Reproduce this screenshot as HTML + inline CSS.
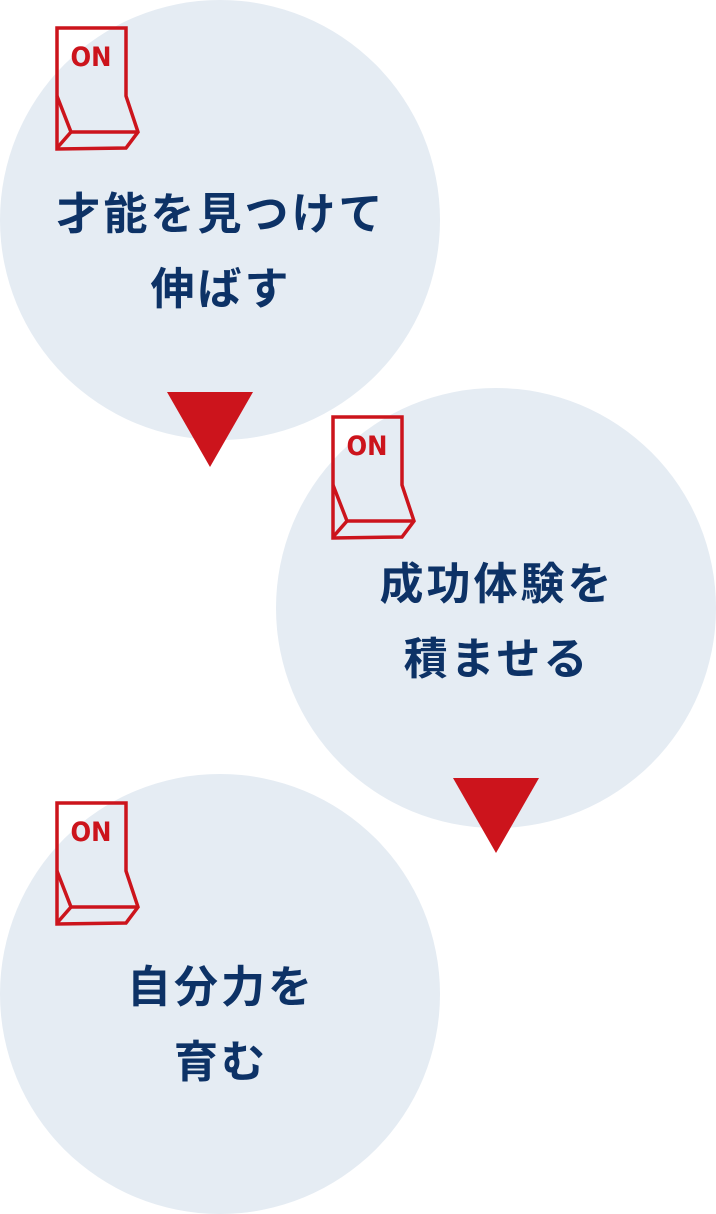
<!DOCTYPE html>
<html><head><meta charset="utf-8"><style>
html,body{margin:0;padding:0;background:#fff;}
body{width:716px;height:1214px;position:relative;overflow:hidden;font-family:"Liberation Sans","Noto Sans CJK JP",sans-serif;}
.c{position:absolute;width:440px;height:440px;border-radius:50%;background:#e5ecf3;}
.t{position:absolute;width:440px;text-align:center;color:#0d3266;font-weight:bold;font-size:44px;letter-spacing:3px;line-height:75px;}
svg{position:absolute;}
</style></head><body>
<div class="c" style="left:0;top:0"></div>
<div class="c" style="left:276px;top:388px"></div>
<div class="c" style="left:0;top:774px"></div>

<svg width="716" height="1214" style="left:0;top:0">
<defs><g id="sw" fill="none" stroke="#cc141c" stroke-width="3.5" stroke-linejoin="miter">
<path d="M57,149 L57,28 L126,28 L126,96 L138,132 L126,148 Z"/>
<path d="M57,96 L71,132 L138,132"/>
<path d="M57,148 L71,132"/>
<text x="91" y="66" fill="#cc141c" stroke="none" font-family="DejaVu Sans Condensed, Liberation Sans, sans-serif" font-weight="bold" font-size="27" text-anchor="middle">ON</text>
</g></defs>
<use href="#sw"/>
<use href="#sw" transform="translate(276,389)"/>
<use href="#sw" transform="translate(0,775)"/>
<polygon points="167,392 253,392 210,467" fill="#cc141c"/>
<polygon points="453,778 539,778 496,853" fill="#cc141c"/>
</svg>

<div class="t" style="left:1px;top:177px">才能を見つけて<br>伸ばす</div>
<div class="t" style="left:277px;top:547px">成功体験を<br>積ませる</div>
<div class="t" style="left:1px;top:950px">自分力を<br>育む</div>
</body></html>
